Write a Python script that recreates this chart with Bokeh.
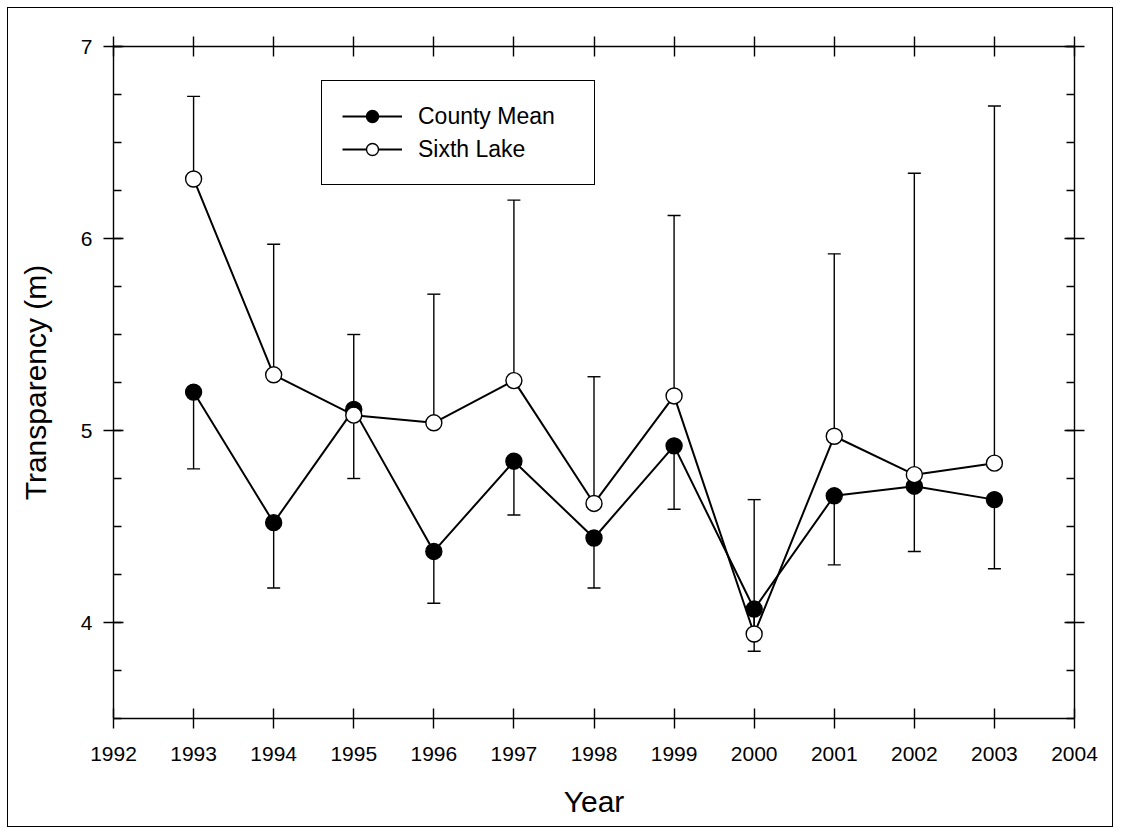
from bokeh.plotting import figure
from bokeh.models import (LinearAxis, SingleIntervalTicker, Whisker, TeeHead,
                          ColumnDataSource, Range1d, Legend, LegendItem,
                          CustomLabelingPolicy)
from bokeh.embed import file_html
from bokeh.resources import INLINE

years = [1993, 1994, 1995, 1996, 1997, 1998, 1999, 2000, 2001, 2002, 2003]
county_mean = [5.20, 4.52, 5.11, 4.37, 4.84, 4.44, 4.92, 4.07, 4.66, 4.71, 4.64]
county_low = [4.80, 4.18, 4.75, 4.10, 4.56, 4.18, 4.59, 3.85, 4.30, 4.37, 4.28]
sixth_lake = [6.31, 5.29, 5.08, 5.04, 5.26, 4.62, 5.18, 3.94, 4.97, 4.77, 4.83]
sixth_high = [6.74, 5.97, 5.50, 5.71, 6.20, 5.28, 6.12, 4.64, 5.92, 6.34, 6.69]

FONT = "Liberation Sans"
LW = 1.4

p = figure(width=1106, height=820,
           x_range=Range1d(1992, 2004), y_range=Range1d(3.5, 7),
           output_backend="svg", toolbar_location=None,
           min_border_left=105, min_border_right=40,
           min_border_top=38, min_border_bottom=110,
           x_axis_label="Year", y_axis_label="Transparency (m)")
p.styles = {"border": "1px solid black", "margin": "7px 0px 0px 7px"}
p.xgrid.visible = False
p.ygrid.visible = False
p.outline_line_color = None

hide_labels = CustomLabelingPolicy(
    code="for (const i of [...indices]) { indices.unset(i) }; return indices")


def style_axis(ax, labels=True, minor=True):
    ax.axis_line_color = "black"
    ax.axis_line_width = LW
    ax.major_tick_line_color = "black"
    ax.major_tick_line_width = LW
    ax.major_tick_in = 10
    ax.major_tick_out = 10
    ax.minor_tick_line_color = "black" if minor else None
    ax.minor_tick_line_width = LW
    ax.minor_tick_in = 8
    ax.minor_tick_out = 0
    ax.major_label_text_font = FONT
    ax.axis_label_text_font = FONT
    ax.axis_label_text_font_style = "normal"
    ax.axis_label_text_color = "black"
    ax.major_label_text_color = "black"
    if not labels:
        ax.major_label_policy = hide_labels
        ax.axis_label = None


xt = SingleIntervalTicker(interval=1, num_minor_ticks=0)
yt = SingleIntervalTicker(interval=1, num_minor_ticks=4)

p.xaxis.ticker = xt
p.yaxis.ticker = yt
style_axis(p.xaxis[0], minor=False)
style_axis(p.yaxis[0])
p.xaxis.major_label_text_font_size = "21px"
p.yaxis.major_label_text_font_size = "21px"
p.xaxis.major_label_standoff = 18
p.yaxis.major_label_standoff = 11
p.xaxis.axis_label_text_font_size = "30px"
p.yaxis.axis_label_text_font_size = "30px"
p.xaxis.axis_label_standoff = 21
p.yaxis.axis_label_standoff = 26

top = LinearAxis(ticker=SingleIntervalTicker(interval=1, num_minor_ticks=0))
style_axis(top, labels=False, minor=False)
p.add_layout(top, "above")
right = LinearAxis(ticker=SingleIntervalTicker(interval=1, num_minor_ticks=4))
style_axis(right, labels=False)
p.add_layout(right, "right")

src_c = ColumnDataSource(dict(x=years, y=county_mean, low=county_low))
src_s = ColumnDataSource(dict(x=years, y=sixth_lake, high=sixth_high))

wc = Whisker(source=src_c, base="x", upper="y", lower="low",
             upper_head=None, lower_head=TeeHead(size=13, line_width=LW, line_color="black"),
             line_width=LW, line_color="black")
ws = Whisker(source=src_s, base="x", upper="high", lower="y",
             lower_head=None, upper_head=TeeHead(size=13, line_width=LW, line_color="black"),
             line_width=LW, line_color="black")
p.add_layout(wc)
p.add_layout(ws)

l1 = p.line("x", "y", source=src_c, line_color="black", line_width=2)
s1 = p.scatter("x", "y", source=src_c, size=16, marker="circle",
               fill_color="black", line_color="black", line_width=LW)
l2 = p.line("x", "y", source=src_s, line_color="black", line_width=2)
s2 = p.scatter("x", "y", source=src_s, size=16, marker="circle",
               fill_color="white", line_color="black", line_width=LW)

legend = Legend(items=[LegendItem(label="County Mean", renderers=[l1, s1]),
                       LegendItem(label="Sixth Lake", renderers=[l2, s2])],
                location=(208, 533), border_line_color="black", border_line_width=1.6,
                border_line_alpha=1.0,
                padding=20, spacing=3, glyph_width=60, glyph_height=30,
                label_height=30, label_width=156, label_standoff=16,
                label_text_font=FONT, label_text_font_size="23px",
                label_text_color="black",
                margin=0, background_fill_alpha=1.0)
p.add_layout(legend)

open("out.html", "w").write(file_html(p, INLINE))
